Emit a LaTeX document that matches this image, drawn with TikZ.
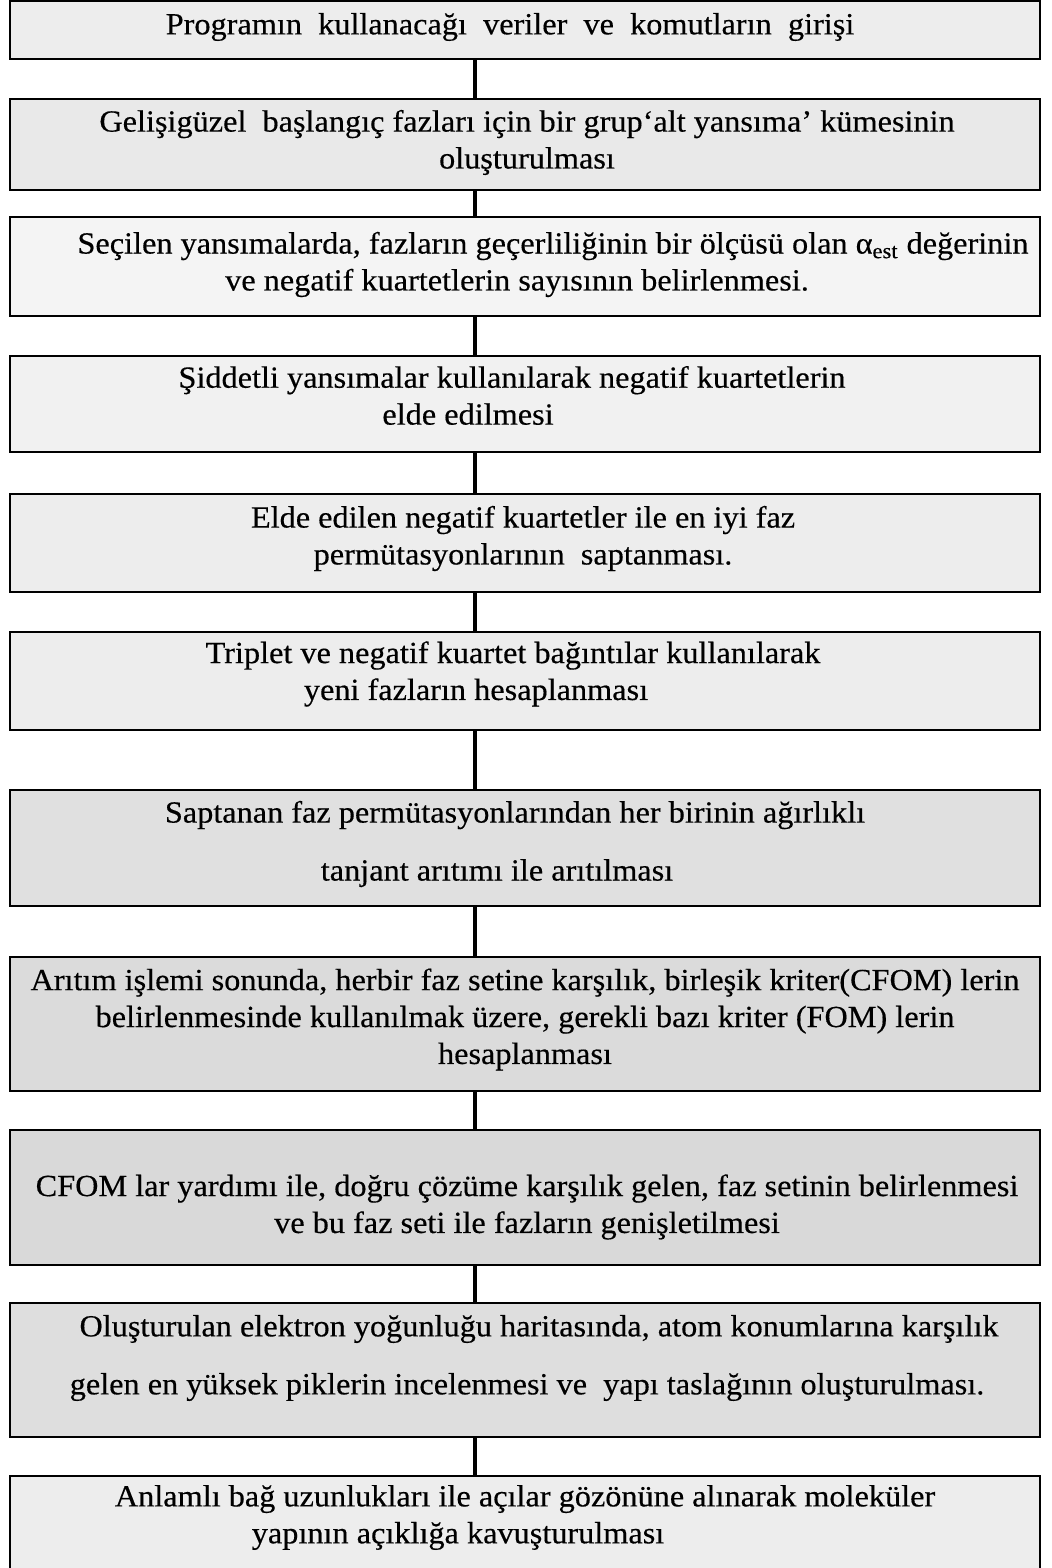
\documentclass[tikz,border=0pt]{standalone}
\usepackage{fontspec}
\setmainfont[FakeStretch=1.05,FakeBold=0.4]{Liberation Serif}
\usetikzlibrary{positioning}

\tikzset{
  stepbox/.style={draw,line width=1.2pt,fill=gray!18,minimum width=20.6cm,inner sep=0pt},
  steptext/.style={align=center,inner sep=0pt,font=\fontsize{17.5}{21}\selectfont},
  link/.style={line width=2.2pt}
}

\begin{document}
\begin{tikzpicture}[x=0.02cm,y=-0.02cm]
\useasboundingbox (0,0) rectangle (1051,1568);
\coordinate (mid) at (475,0);
% kutular
\node[stepbox,fill=gray!14,minimum height=1.16cm] (b1) at (525,30) {};
\node[stepbox,fill=gray!17,minimum height=1.82cm] (b2) at (525,144.5) {};
\node[stepbox,fill=gray!9,minimum height=1.98cm] (b3) at (525,266.5) {};
\node[stepbox,fill=gray!11,minimum height=1.92cm] (b4) at (525,404) {};
\node[stepbox,fill=gray!14,minimum height=1.96cm] (b5) at (525,543) {};
\node[stepbox,fill=gray!14,minimum height=1.96cm] (b6) at (525,681) {};
\node[stepbox,fill=gray!24,minimum height=2.32cm] (b7) at (525,848) {};
\node[stepbox,fill=gray!28,minimum height=2.68cm] (b8) at (525,1024) {};
\node[stepbox,fill=gray!30,minimum height=2.70cm] (b9) at (525,1197.5) {};
\node[stepbox,fill=gray!26,minimum height=2.68cm] (b10) at (525,1370) {};
\node[stepbox,fill=gray!14,minimum height=2.48cm] (b11) at (525,1538) {};
% metinler
\node[steptext] (t1) at (510,27) {Programın~ kullanacağı~ veriler~ ve~ komutların~ girişi};
\node[steptext] (t2) at (527,142.5) {Gelişigüzel~ başlangıç fazları için bir grup‘alt yansıma’ kümesinin\\oluşturulması};
\node[steptext] (t3) at (553,264.5) {Seçilen yansımalarda, fazların geçerliliğinin bir ölçüsü olan α\textsubscript{est} değerinin\\ve negatif kuartetlerin sayısının belirlenmesi.\hspace*{1.44cm}};
\node[steptext] (t4) at (512,395.5) {Şiddetli yansımalar kullanılarak negatif kuartetlerin\\elde edilmesi\hspace*{1.76cm}};
\node[steptext] (t5) at (523,538.5) {Elde edilen negatif kuartetler ile en iyi faz\\permütasyonlarının~ saptanması.};
\node[steptext] (t6) at (513,674) {Triplet ve negatif kuartet bağıntılar kullanılarak\\yeni fazların hesaplanması\hspace*{1.48cm}};
\node[steptext] (t7) at (515,844) {Saptanan faz permütasyonlarından her birinin ağırlıklı\\[12pt]tanjant arıtımı ile arıtılması\hspace*{0.72cm}};
\node[steptext] (t8) at (525,1019.5) {Arıtım işlemi sonunda, herbir faz setine karşılık, birleşik kriter(CFOM) lerin\\belirlenmesinde kullanılmak üzere, gerekli bazı kriter (FOM) lerin\\hesaplanması};
\node[steptext] (t9) at (527,1207) {CFOM lar yardımı ile, doğru çözüme karşılık gelen, faz setinin belirlenmesi\\ve bu faz seti ile fazların genişletilmesi};
\node[steptext] (t10) at (539,1358) {Oluşturulan elektron yoğunluğu haritasında, atom konumlarına karşılık\\[12pt]gelen en yüksek piklerin incelenmesi ve~ yapı taslağının oluşturulması.\hspace*{0.48cm}};
\node[steptext] (t11) at (525,1517.5) {Anlamlı bağ uzunlukları ile açılar gözönüne alınarak moleküler\\yapının açıklığa kavuşturulması\hspace*{2.68cm}};
% baglantilar
\draw[link] (b1.south -| mid) -- (b2.north -| mid);
\draw[link] (b2.south -| mid) -- (b3.north -| mid);
\draw[link] (b3.south -| mid) -- (b4.north -| mid);
\draw[link] (b4.south -| mid) -- (b5.north -| mid);
\draw[link] (b5.south -| mid) -- (b6.north -| mid);
\draw[link] (b6.south -| mid) -- (b7.north -| mid);
\draw[link] (b7.south -| mid) -- (b8.north -| mid);
\draw[link] (b8.south -| mid) -- (b9.north -| mid);
\draw[link] (b9.south -| mid) -- (b10.north -| mid);
\draw[link] (b10.south -| mid) -- (b11.north -| mid);
\end{tikzpicture}
\end{document}
